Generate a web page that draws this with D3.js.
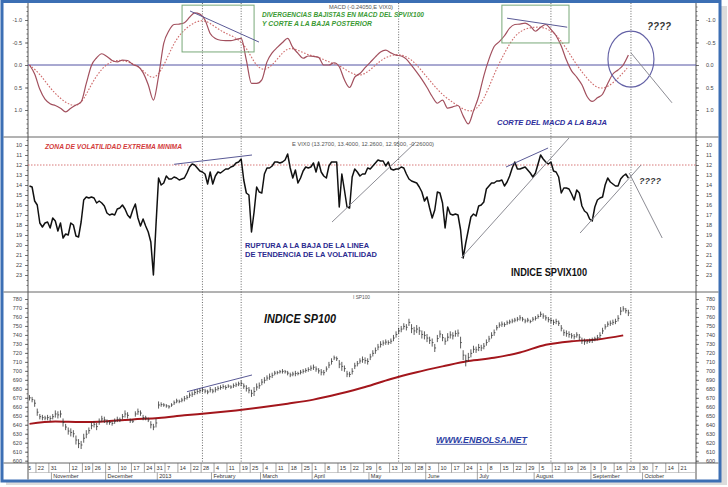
<!DOCTYPE html>
<html lang="es">
<head>
<meta charset="utf-8"/>
<title>SP100 / SPVIX100 / MACD</title>
<script src="https://d3js.org/d3.v7.min.js"></script>
<style>
	body { margin: 0; background: #fff; }
	svg text { font-family: "Liberation Sans", Arial, sans-serif; }
	.axis text { font-size: 5.5px; fill: #444; }
	.axis line { stroke: #555; stroke-width: 0.8; }
	.axis .domain { display: none; }
</style>
</head>
<body>
<svg id="chart" width="728" height="487"></svg>

<script>
// ---- data (one value per trading day from 2012-10-17) ----
var firstDate = "2012-10-17";

// SPVIX100 close
var vix = [
	14.1,14.2,15.6,16.0,17.8,18.2,17.8,17.7,18.3,17.3,
	17.6,18.6,17.8,19.3,18.9,19.0,17.8,18.0,19.1,19.2,
	17.7,15.5,15.2,15.3,15.2,15.3,15.8,15.6,15.8,16.1,
	16.8,17.0,16.9,17.0,16.4,16.3,16.0,16.4,17.0,17.3,
	16.5,15.9,17.3,18.1,17.4,18.1,18.7,19.7,23.0,18.0,
	13.3,14.0,13.8,13.1,13.4,13.4,13.2,13.3,13.5,13.4,
	13.3,12.8,12.2,11.9,12.0,12.3,12.6,12.7,12.9,13.9,
	12.7,13.9,13.1,12.7,12.8,12.6,12.4,12.4,12.2,12.1,
	11.8,11.7,11.4,13.5,14.8,15.0,18.7,16.7,14.2,14.7,
	14.8,12.9,12.3,12.3,12.1,11.7,11.7,11.8,11.7,11.5,
	10.9,12.3,13.3,12.5,13.8,13.3,12.6,12.2,12.3,12.2,
	11.8,12.7,11.7,12.7,13.1,13.3,12.1,11.7,11.7,11.7,
	16.2,12.9,14.5,16.2,16.3,13.2,12.4,12.7,13.1,12.9,
	12.9,12.3,12.4,12.1,11.8,11.5,11.6,11.6,12.1,11.7,
	12.4,12.5,12.4,12.4,12.2,12.3,12.9,13.4,13.6,13.7,
	13.8,14.2,14.7,15.6,15.2,16.3,17.3,16.5,14.7,14.8,
	15.8,18.3,16.2,16.9,17.0,16.9,17.0,18.5,21.3,19.8,
	18.5,17.2,16.9,17.1,16.1,16.0,15.7,14.4,14.1,13.8,
	13.8,13.6,13.6,13.5,14.1,13.7,13.1,12.3,11.7,12.4,
	12.4,12.3,12.2,12.5,12.8,13.2,12.8,11.9,11.0,11.4,
	11.7,11.9,11.7,12.6,12.7,13.2,14.8,14.3,14.3,14.4,
	14.9,15.5,14.5,14.8,16.1,16.6,16.8,17.4,17.6,16.2,
	15.5,15.3,15.2,14.0,13.3,13.7,13.9,14.1,14.1,13.4,
	13.1,12.9,13.3
];

// SP100 daily high / low
var spHigh = [
	673,671,668,658,652,651,650,651,650,652,
	656,655,656,647,641,637,636,634,628,624,
	622,630,634,637,643,644,642,647,650,649,
	646,645,644,647,649,648,652,656,654,647,
	646,655,658,656,651,650,648,644,641,647,
	666,665,664,663,662,664,667,669,668,670,
	672,673,676,677,679,680,681,682,680,679,
	682,680,682,683,684,685,684,685,684,686,
	687,688,689,686,684,682,679,682,686,687,
	691,693,695,697,698,700,700,701,702,701,
	700,698,699,700,699,701,702,703,704,706,
	707,705,703,702,701,705,710,714,717,716,
	712,710,706,700,699,703,709,711,714,716,
	715,714,719,723,726,730,733,734,735,734,
	736,740,744,748,750,753,752,758,752,749,
	751,749,745,744,741,738,736,730,740,745,
	741,737,742,744,743,745,746,738,723,718,
	720,724,728,727,730,729,731,735,739,743,
	746,751,754,755,754,756,757,758,759,760,
	762,760,758,759,757,760,761,763,766,764,
	762,760,759,757,758,756,751,746,745,744,
	742,741,743,741,737,736,735,736,737,738,
	740,743,748,752,755,756,757,758,762,771,
	772,770,768
];
var spLow = [
	667,665,660,650,646,645,645,645,644,646,
	648,647,648,638,634,629,627,626,618,614,
	613,620,625,630,635,637,634,640,643,642,
	640,640,639,641,643,643,646,648,647,642,
	642,649,651,650,645,645,643,636,634,637,
	658,660,660,659,658,660,662,664,664,665,
	666,668,670,671,673,674,675,676,675,674,
	676,675,676,678,679,680,679,681,680,681,
	682,683,683,680,677,675,671,672,678,680,
	684,686,689,690,692,695,696,697,697,697,
	695,693,694,694,695,696,697,698,699,700,
	701,699,697,695,695,699,703,707,712,711,
	703,700,699,693,693,696,702,705,708,709,
	708,707,712,716,719,723,726,728,729,729,
	730,733,737,741,743,746,745,750,742,740,
	742,740,736,735,732,730,727,721,732,737,
	733,729,733,736,735,738,738,725,712,705,
	710,715,720,720,722,722,724,728,732,736,
	739,745,748,749,749,751,752,753,754,755,
	756,755,753,754,753,755,756,758,760,758,
	756,754,753,751,752,750,744,739,738,737,
	736,735,737,734,730,729,730,731,731,733,
	734,736,741,746,749,750,751,752,755,762,
	766,764,761
];

// long moving average of SP100, one value every 10 trading days
var maStep = 10;
var spMA = [641,643.5,643,644,646,647.5,650.5,653,656,659.5,663.5,668,
	674.5,682,691,698.5,705,711,714.5,720.5,729,733,735,739.5];

// MACD of SPVIX100 every 2 trading days, signal every 4
var macdStep = 2;
var macd = [
	0.00,0.20,0.54,0.76,0.86,0.90,0.96,1.04,0.96,0.89,
	0.82,0.41,0.01,-0.16,-0.25,-0.19,-0.10,-0.07,-0.11,-0.10,
	-0.01,0.03,0.17,0.44,0.78,0.25,-0.48,-0.76,-0.90,-0.91,
	-0.94,-1.06,-1.16,-1.13,-1.00,-0.70,-0.59,-0.55,-0.54,-0.54,
	-0.57,-0.59,-0.11,0.41,0.41,0.33,-0.07,-0.27,-0.39,-0.50,
	-0.59,-0.39,-0.26,-0.15,-0.20,-0.19,-0.17,0.00,0.00,-0.05,
	0.04,0.33,0.50,0.27,0.19,0.06,-0.06,-0.18,-0.29,-0.33,
	-0.27,-0.22,-0.20,-0.13,0.01,0.16,0.32,0.50,0.70,0.85,
	0.78,0.96,0.93,0.90,1.13,1.31,1.02,0.70,0.24,-0.13,
	-0.41,-0.52,-0.65,-0.82,-0.90,-0.91,-0.93,-0.87,-0.75,-0.84,
	-0.90,-0.79,-0.65,-0.42,-0.11,0.13,0.27,0.44,0.70,0.81,
	0.73,0.65,0.41,0.20,0.11,0.00,-0.22
];
var signalStep = 4;
var signal = [
	0.00,0.19,0.52,0.75,0.91,0.90,0.41,0.07,-0.10,-0.11,
	-0.04,0.11,0.37,0.04,-0.52,-0.79,-0.96,-1.01,-0.84,-0.70,
	-0.61,-0.41,0.07,0.13,-0.13,-0.41,-0.33,-0.22,-0.18,-0.06,
	0.00,0.17,0.26,0.12,-0.11,-0.22,-0.24,-0.13,0.13,0.41,
	0.67,0.83,0.99,1.06,0.79,0.19,-0.27,-0.67,-0.81,-0.85,
	-0.83,-0.69,-0.37,0.01,0.30,0.54,0.50,0.30,0.04
];

// hand drawn studies: [panel, day from, value from, day to, value to] (days counted from first bar)
var trendLines = [
	["macd", 62.2, -1.20, 88.9, -0.51],
	["macd", 185, -1.04, 208.3, -0.84],
	["macd", 233, -0.27, 248.9, 0.84],
	["vix", 56, 11.93, 86.2, 11.0],
	["vix", 117.2, 17.7, 149.7, 9.7],
	["vix", 184.6, 12.2, 200.9, 10.3],
	["vix", 167.2, 21.3, 209, 9.3],
	["vix", 213.3, 18.8, 236.9, 12.0],
	["vix", 232.3, 12.8, 245.1, 19.3],
	["sp", 61, 676.8, 86.2, 695.4]
];
var macdBoxes = [[59.1, -1.33, 87, -0.29], [183, -1.33, 209, -0.49]];
var macdCircle = [233, -0.13];
var vixLevel = 12;
var markerDates = ["2013-01-28", "2013-02-19", "2013-05-16", "2013-08-09", "2013-09-24"];

// date axis
var weekDates = ["2012-10-15","2012-10-22","2012-10-31","2012-11-12","2012-11-19","2012-11-26",
	"2012-12-03","2012-12-10","2012-12-17","2012-12-24","2012-12-31","2013-01-07","2013-01-14",
	"2013-01-22","2013-01-28","2013-02-04","2013-02-11","2013-02-19","2013-02-25","2013-03-04",
	"2013-03-11","2013-03-18","2013-03-25","2013-04-01","2013-04-08","2013-04-15","2013-04-22",
	"2013-04-29","2013-05-06","2013-05-13","2013-05-20","2013-05-28","2013-06-03","2013-06-10",
	"2013-06-17","2013-06-24","2013-07-01","2013-07-08","2013-07-15","2013-07-22","2013-07-29",
	"2013-08-05","2013-08-12","2013-08-19","2013-08-26","2013-09-03","2013-09-09","2013-09-16",
	"2013-09-23","2013-09-30","2013-10-07","2013-10-14","2013-10-21"];
var monthDates = ["2012-11-01","2012-12-03","2013-01-02","2013-02-01","2013-03-01","2013-04-01",
	"2013-05-01","2013-06-03","2013-07-01","2013-08-01","2013-09-03","2013-10-01"];
var monthNames = ["November","December","2013","February","March","April",
	"May","June","July","August","September","October"];
var holidays = ["2012-10-29","2012-10-30","2012-11-22","2012-12-25","2013-01-01","2013-01-21",
	"2013-02-18","2013-03-29","2013-05-27","2013-07-04","2013-09-02"];

// ---- trading calendar ----
var fmtDay = d3.utcFormat("%Y-%m-%d");
var days = [];
for (var dt = new Date(Date.UTC(2012, 9, 15)); days.length < 262; dt.setUTCDate(dt.getUTCDate() + 1)) {
	var wd = dt.getUTCDay();
	if (wd === 0 || wd === 6) continue;
	if (holidays.indexOf(fmtDay(dt)) >= 0) continue;
	days.push(fmtDay(dt));
}
function dayIndex(s) { return days.indexOf(s); }
var first = dayIndex(firstDate);

// ---- layout ----
var L = 28, R = 696, T = 3, P1 = 137, P2 = 292, B = 463;

var svg = d3.select("#chart");

var x = d3.scaleLinear().domain([first, first + 252]).range([29.5, 680]);
var yMacd = d3.scaleLinear().domain([-1, 1]).range([20, 110]);
var yVix = d3.scaleLinear().domain([10, 23]).range([145, 275]);
var ySp = d3.scaleLinear().domain([600, 780]).range([460.7, 299]);
var yOf = { macd: yMacd, vix: yVix, sp: ySp };

// window frame + shadow
svg.append("rect").attr("x", 6).attr("y", 6).attr("width", 721).attr("height", 479).attr("fill", "#dcdcdc");
svg.append("rect").attr("x", 2).attr("y", 1.5).attr("width", 718).attr("height", 479.5)
	.attr("fill", "#fff").attr("stroke", "#3c6fb4").attr("stroke-width", 3);

// panel separators
svg.selectAll("line.sep").data([P1, P2, B]).join("line")
	.attr("class", "sep")
	.attr("x1", 3.5).attr("x2", 718.5)
	.attr("y1", function(d) { return d; }).attr("y2", function(d) { return d; })
	.attr("stroke", "#666").attr("stroke-width", 1);

// axis lines
svg.selectAll("line.ax").data([L, R]).join("line")
	.attr("class", "ax")
	.attr("x1", function(d) { return d; }).attr("x2", function(d) { return d; })
	.attr("y1", T).attr("y2", 479.5)
	.attr("stroke", "#555").attr("stroke-width", 1);

// date area
svg.append("line").attr("x1", L).attr("x2", R).attr("y1", 472.5).attr("y2", 472.5)
	.attr("stroke", "#aaa").attr("stroke-width", 0.6);

function axes(scale, major, minor, fmt) {
	svg.append("g").attr("class", "axis").attr("transform", "translate(" + L + ",0)")
		.call(d3.axisLeft(scale).tickValues(major).tickSize(3).tickPadding(3).tickFormat(fmt));
	svg.append("g").attr("class", "axis").attr("transform", "translate(" + L + ",0)")
		.call(d3.axisLeft(scale).tickValues(minor).tickSize(1.5).tickFormat(""));
	svg.append("g").attr("class", "axis").attr("transform", "translate(" + R + ",0)")
		.call(d3.axisRight(scale).tickValues(major).tickSize(3).tickPadding(7).tickFormat(fmt));
	svg.append("g").attr("class", "axis").attr("transform", "translate(" + R + ",0)")
		.call(d3.axisRight(scale).tickValues(minor).tickSize(1.5).tickFormat(""));
}
axes(yMacd, [-1, -0.5, 0, 0.5, 1], d3.range(-13, 16).map(function(v) { return v / 10; }),
	function(d) { return d.toFixed(1); });
axes(yVix, d3.range(10, 24), d3.range(19, 49).map(function(v) { return v / 2; }),
	function(d) { return d; });
axes(ySp, d3.range(600, 781, 10), d3.range(600, 781, 5), function(d) { return d; });

// vertical dotted markers
svg.selectAll("line.mark").data(markerDates).join("line")
	.attr("class", "mark")
	.attr("x1", function(d) { return x(dayIndex(d)); })
	.attr("x2", function(d) { return x(dayIndex(d)); })
	.attr("y1", T).attr("y2", B)
	.attr("stroke", "#444").attr("stroke-width", 0.8).attr("stroke-dasharray", "1,1.6");

// ---- MACD panel ----
svg.append("line").attr("x1", L).attr("x2", R)
	.attr("y1", yMacd(0)).attr("y2", yMacd(0))
	.attr("stroke", "#5353a3").attr("stroke-width", 1);

svg.append("path")
	.datum(signal)
	.attr("fill", "none").attr("stroke", "#cf6b6b").attr("stroke-width", 1.1)
	.attr("stroke-dasharray", "1.6,1.6")
	.attr("d", d3.line()
		.x(function(d, k) { return x(first + k * signalStep); })
		.y(function(d) { return yMacd(d); })
		.curve(d3.curveBasis));

svg.append("path")
	.datum(macd)
	.attr("fill", "none").attr("stroke", "#a2505e").attr("stroke-width", 1.2)
	.attr("d", d3.line()
		.x(function(d, k) { return x(first + k * macdStep); })
		.y(function(d) { return yMacd(d); })
		.curve(d3.curveMonotoneX));

svg.selectAll("rect.box").data(macdBoxes).join("rect")
	.attr("class", "box")
	.attr("x", function(d) { return x(first + d[0]); })
	.attr("y", function(d) { return yMacd(d[1]); })
	.attr("width", function(d) { return x(first + d[2]) - x(first + d[0]); })
	.attr("height", function(d) { return yMacd(d[3]) - yMacd(d[1]); })
	.attr("fill", "none").attr("stroke", "#78a878").attr("stroke-width", 1);

svg.append("ellipse")
	.attr("cx", x(first + macdCircle[0])).attr("cy", yMacd(macdCircle[1]))
	.attr("rx", 23).attr("ry", 28)
	.attr("fill", "none").attr("stroke", "#6462a6").attr("stroke-width", 1.2);

// ---- SPVIX100 panel ----
svg.append("line").attr("x1", L).attr("x2", R)
	.attr("y1", yVix(vixLevel)).attr("y2", yVix(vixLevel))
	.attr("stroke", "#d46a6a").attr("stroke-width", 0.9).attr("stroke-dasharray", "1.5,1.5");

svg.append("path")
	.datum(vix)
	.attr("fill", "none").attr("stroke", "#111").attr("stroke-width", 1.5)
	.attr("stroke-linejoin", "round")
	.attr("d", d3.line()
		.x(function(d, k) { return x(first + k); })
		.y(function(d) { return yVix(d); }));

// ---- SP100 panel ----
svg.append("path")
	.datum(spMA)
	.attr("fill", "none").attr("stroke", "#a3161c").attr("stroke-width", 2)
	.attr("d", d3.line()
		.x(function(d, k) { return x(first + k * maStep); })
		.y(function(d) { return ySp(d); })
		.curve(d3.curveMonotoneX));

var bars = svg.append("g").attr("stroke", "#333").attr("stroke-width", 0.8);
bars.selectAll("line.hl").data(spHigh).join("line")
	.attr("class", "hl")
	.attr("x1", function(d, k) { return x(first + k); })
	.attr("x2", function(d, k) { return x(first + k); })
	.attr("y1", function(d) { return ySp(d); })
	.attr("y2", function(d, k) { return ySp(spLow[k]); });
bars.selectAll("line.tk").data(spHigh).join("line")
	.attr("class", "tk")
	.attr("x1", function(d, k) { return x(first + k); })
	.attr("x2", function(d, k) { return x(first + k) + 1.3; })
	.attr("y1", function(d, k) { return ySp((d + spLow[k]) / 2); })
	.attr("y2", function(d, k) { return ySp((d + spLow[k]) / 2); });

// trend lines
svg.selectAll("line.trend").data(trendLines).join("line")
	.attr("class", "trend")
	.attr("x1", function(d) { return x(first + d[1]); })
	.attr("y1", function(d) { return yOf[d[0]](d[2]); })
	.attr("x2", function(d) { return x(first + d[3]); })
	.attr("y2", function(d) { return yOf[d[0]](d[4]); })
	.attr("stroke", function(d, i) { return (i === 0 || i === 1 || i === 3 || i === 5 || i === 9) ? "#5a5a96" : "#8c8c94"; })
	.attr("stroke-width", 1);

// ---- date axis ----
svg.append("clipPath").attr("id", "dateclip")
	.append("rect").attr("x", L + 0.5).attr("y", B).attr("width", R - L - 1).attr("height", 17);
var dg = svg.append("g").attr("clip-path", "url(#dateclip)");

dg.selectAll("line.wk").data(weekDates).join("line")
	.attr("class", "wk")
	.attr("x1", function(d) { return x(dayIndex(d)) - 1.3; })
	.attr("x2", function(d) { return x(dayIndex(d)) - 1.3; })
	.attr("y1", B).attr("y2", 472.5)
	.attr("stroke", "#666").attr("stroke-width", 0.6);
dg.selectAll("text.wk").data(weekDates).join("text")
	.attr("class", "wk")
	.attr("x", function(d) { return x(dayIndex(d)) + 0.6; })
	.attr("y", 470.3)
	.attr("font-size", 5.5).attr("fill", "#333")
	.text(function(d) { return +d.slice(8); });

dg.selectAll("line.mo").data(monthDates).join("line")
	.attr("class", "mo")
	.attr("x1", function(d) { return x(dayIndex(d)) - 1.3; })
	.attr("x2", function(d) { return x(dayIndex(d)) - 1.3; })
	.attr("y1", 472.5).attr("y2", 480)
	.attr("stroke", "#666").attr("stroke-width", 0.6);
dg.selectAll("text.mo").data(monthDates).join("text")
	.attr("class", "mo")
	.attr("x", function(d) { return x(dayIndex(d)) + 0.6; })
	.attr("y", 477.8)
	.attr("font-size", 5.5).attr("fill", "#333")
	.text(function(d, i) { return monthNames[i]; });

// ---- texts ----
function note(px, py, txt, size, color, weight, style, len) {
	var t = svg.append("text")
		.attr("x", px).attr("y", py)
		.attr("font-size", size).attr("fill", color)
		.attr("font-weight", weight).attr("font-style", style)
		.text(txt);
	if (len) t.attr("textLength", len).attr("lengthAdjust", "spacingAndGlyphs");
	return t;
}
note(329, 8.5, "MACD (-0.24050,E VIX0)", 5, "#555", "normal", "normal", 64);
note(262, 17.4, "DIVERGENCIAS BAJISTAS EN MACD DEL SPVIX100", 7, "#3b9a34", "bold", "italic", 162);
note(262, 26.4, "Y CORTE A LA BAJA POSTERIOR", 7, "#3b9a34", "bold", "italic", 110);
note(647, 30, "????", 10, "#333", "bold", "italic", 24);
note(497, 125, "CORTE DEL MACD A LA BAJA", 8, "#2e2e9c", "bold", "italic", 110);

note(45, 149.2, "ZONA DE VOLATILIDAD EXTREMA MINIMA", 6.5, "#d33b3b", "bold", "italic", 137);
note(292, 146.3, "E VIX0 (13.2700, 13.4000, 12.2600, 12.9500, -0.26000)", 5, "#555", "normal", "normal", 142);
note(245, 247.5, "RUPTURA A LA BAJA DE LA LINEA", 8, "#2b2b8f", "bold", "normal", 124);
note(245, 256.5, "DE TENDENCIA DE LA VOLATILIDAD", 8, "#2b2b8f", "bold", "normal", 132);
note(511, 275.5, "INDICE SPVIX100", 11, "#111", "bold", "normal", 76);
note(639, 183.5, "????", 9.5, "#333", "bold", "italic", 22);

note(264, 322.5, "INDICE SP100", 13, "#111", "bold", "italic", 72);
note(353, 299, "I SP100", 5, "#555", "normal", "normal", 17);
note(436, 443, "WWW.ENBOLSA.NET", 9.5, "#2b3ea3", "bold", "italic", 91);
svg.append("line").attr("x1", 436).attr("x2", 527).attr("y1", 444.3).attr("y2", 444.3)
	.attr("stroke", "#2b3ea3").attr("stroke-width", 0.9);
</script>
</body>
</html>
